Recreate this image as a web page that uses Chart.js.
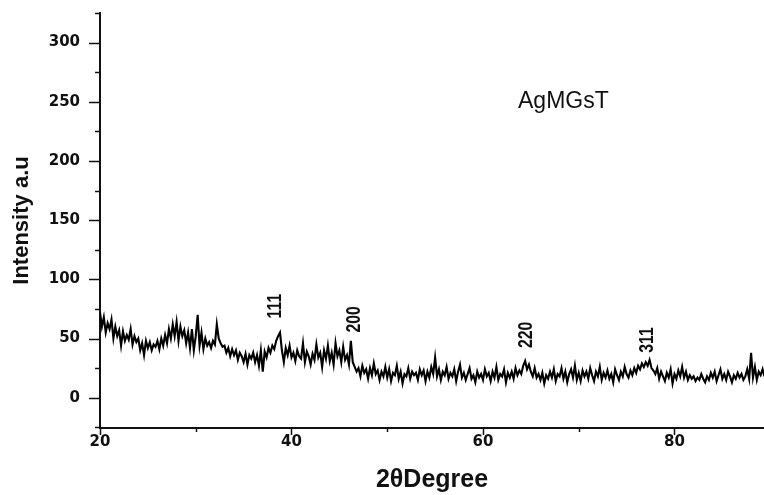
<!DOCTYPE html>
<html>
<head>
<meta charset="utf-8">
<script src="https://cdn.jsdelivr.net/npm/chart.js@4.4.1/dist/chart.umd.min.js"></script>
<style>
  html, body { margin: 0; padding: 0; background: #fff; }
  #wrap { width: 764px; height: 495px; position: relative; }
</style>
</head>
<body>
<div id="wrap"><canvas id="xrd"></canvas></div>
<script>
// scan grid (2-theta, degrees)
const SCAN_START = 20;
const SCAN_STEP = 0.2;

// intensity, 5 points per degree starting at 20
const intensity = [
    72, 60, 68, 55, 63,   58, 66, 50, 60, 52,   57, 44, 56, 48, 53,   49, 58, 45, 52, 47,
    50, 40, 46, 36, 48,   42, 47, 40, 45, 43,   48, 41, 50, 44, 53,   46, 58, 50, 62, 52,
    64, 48, 60, 52, 57,   46, 55, 42, 58, 40,   52, 70, 44, 55, 41,   50, 44, 47, 42, 48,
    45, 62, 50, 46, 43,   44, 38, 42, 35, 41,   36, 40, 32, 38, 35,   30, 37, 28, 36, 33,
    38, 30, 36, 27, 40,   22, 39, 34, 42, 38,   44, 41, 48, 52, 55,   40, 30, 42, 36, 44,
    34, 38, 31, 40, 35,   33, 46, 30, 39, 35,   28, 37, 32, 45, 34,   38, 26, 40, 33, 44,
    31, 38, 28, 46, 35,   40, 30, 43, 32, 36,   28, 48, 30, 26, 22,   25, 18, 27, 21, 24,
    16, 25, 19, 29, 20,   23, 15, 22, 18, 26,   17, 24, 14, 21, 19,   27, 16, 22, 12, 20,
    18, 25, 16, 22, 19,   21, 15, 24, 19, 23,   14, 22, 17, 26, 20,   34, 18, 24, 15, 22,
    19, 26, 16, 21, 18,   24, 14, 22, 28, 17,   21, 15, 20, 25, 16,   19, 13, 22, 17, 20,
    15, 24, 18, 21, 14,   22, 17, 26, 15, 20,   18, 24, 13, 21, 17,   22, 16, 25, 19, 23,
    20, 27, 31, 24, 28,   22, 18, 25, 17, 20,   15, 21, 12, 19, 16,   22, 17, 24, 14, 20,
    18, 25, 16, 22, 13,   20, 24, 17, 27, 15,   21, 14, 23, 18, 22,   16, 25, 19, 14, 22,
    18, 26, 15, 21, 17,   23, 16, 20, 13, 24,   19, 15, 22, 18, 26,   20, 17, 23, 19, 25,
    21, 27, 24, 29, 26,   30, 27, 32, 25, 23,   20, 25, 16, 22, 18,   14, 21, 17, 24, 12,
    20, 16, 23, 18, 26,   17, 22, 15, 19, 16,   18, 14, 17, 15, 20,   16, 13, 18, 15, 21,
    17, 22, 14, 19, 24,   16, 20, 15, 22, 18,   13, 19, 16, 21, 17,   20, 15, 18, 24, 16,
    38, 17, 26, 15, 22,   19, 24, 18
];

const xTickValues = [20, 30, 40, 50, 60, 70, 80];
const xTickLabeled = [20, 40, 60, 80];
const yTickValues = [-25, 0, 25, 50, 75, 100, 125, 150, 175, 200, 225, 250, 275, 300, 325];
const yTickLabeled = [0, 50, 100, 150, 200, 250, 300];

// reflection labels
const peakNames = ["111", "200", "220", "311"];
const peakPos = [38.3, 46.55, 64.6, 77.15];
const peakLabelBase = [67, 55, 42, 38];

const sampleName = "AgMGsT";
const samplePos = { x: 63.66, y: 244.8 };

const points = intensity.map((v, i) => ({ x: SCAN_START + i * SCAN_STEP, y: v }));

const INK = "#111";

// tick marks drawn by hand so minor ones can be shorter
const axisTicks = {
    id: "axisTicks",
    afterDraw(chart) {
        const { ctx, chartArea, scales: { x, y } } = chart;
        ctx.save();
        ctx.strokeStyle = INK;
        ctx.lineWidth = 1.5;
        ctx.beginPath();
        for (const t of x.ticks) {
            const px = Math.round(x.getPixelForValue(t.value)) + 0.5;
            const len = xTickLabeled.includes(t.value) ? 7 : 4;
            ctx.moveTo(px, chartArea.bottom);
            ctx.lineTo(px, chartArea.bottom + len);
        }
        for (const t of y.ticks) {
            const py = Math.round(y.getPixelForValue(t.value)) + 0.5;
            const len = yTickLabeled.includes(t.value) ? 11 : 5;
            ctx.moveTo(chartArea.left, py);
            ctx.lineTo(chartArea.left - len, py);
        }
        ctx.stroke();
        ctx.restore();
    }
};

const annotations = {
    id: "annotations",
    afterDatasetsDraw(chart) {
        const { ctx, scales: { x, y } } = chart;
        ctx.save();
        ctx.fillStyle = INK;
        ctx.font = "bold 15px 'Liberation Sans', Arial, sans-serif";
        ctx.textAlign = "left";
        ctx.textBaseline = "middle";
        peakNames.forEach((name, i) => {
            ctx.save();
            ctx.translate(x.getPixelForValue(peakPos[i]), y.getPixelForValue(peakLabelBase[i]));
            ctx.rotate(-Math.PI / 2);
            ctx.scale(1.05, 1.3);
            ctx.fillText(name, 0, 0);
            ctx.restore();
        });
        ctx.font = "23px 'Liberation Sans', Arial, sans-serif";
        ctx.textBaseline = "alphabetic";
        ctx.fillText(sampleName, x.getPixelForValue(samplePos.x), y.getPixelForValue(samplePos.y));
        ctx.restore();
    }
};

const tickFont = { family: "'DejaVu Sans', sans-serif", size: 15, weight: "bold" };

new Chart(document.getElementById("xrd"), {
    type: "line",
    data: {
        datasets: [{
            data: points,
            borderColor: "#000",
            borderWidth: 2.1,
            pointRadius: 0,
            tension: 0,
            fill: false
        }]
    },
    options: {
        responsive: true,
        maintainAspectRatio: false,
        animation: false,
        events: [],
        layout: { padding: { top: 13, right: 0, left: 0, bottom: 0 } },
        plugins: { legend: { display: false }, tooltip: { enabled: false } },
        scales: {
            x: {
                type: "linear",
                min: 20,
                max: 89.35,
                afterBuildTicks: (s) => { s.ticks = xTickValues.map(v => ({ value: v })); },
                afterFit: (s) => { s.height = 67; s.paddingLeft = 0; s.paddingRight = 0; },
                border: { display: true, color: INK, width: 2 },
                grid: { display: true, drawOnChartArea: false, color: "rgba(0,0,0,0)", tickLength: 5 },
                ticks: {
                    padding: 0,
                    color: INK,
                    font: tickFont,
                    maxRotation: 0,
                    autoSkip: false,
                    callback: (v) => xTickLabeled.includes(v) ? String(v) : ""
                },
                title: {
                    display: true,
                    text: "2θDegree",
                    color: INK,
                    font: { family: "'Liberation Sans', Arial, sans-serif", size: 25, weight: "bold" },
                    padding: { top: 0, bottom: 0 }
                }
            },
            y: {
                type: "linear",
                min: -25.6,
                max: 325,
                afterBuildTicks: (s) => { s.ticks = yTickValues.map(v => ({ value: v })); },
                afterFit: (s) => { s.width = 100; s.paddingTop = 0; s.paddingBottom = 0; },
                border: { display: true, color: INK, width: 2 },
                grid: { display: true, drawOnChartArea: false, color: "rgba(0,0,0,0)", tickLength: 11 },
                ticks: {
                    padding: 9,
                    color: INK,
                    font: tickFont,
                    autoSkip: false,
                    callback: (v) => yTickLabeled.includes(v) ? String(v) : ""
                },
                title: {
                    display: true,
                    text: "Intensity a.u",
                    color: INK,
                    font: { family: "'Liberation Sans', Arial, sans-serif", size: 22, weight: "bold" },
                    padding: { top: 9, bottom: 0 }
                }
            }
        }
    },
    plugins: [axisTicks, annotations]
});
</script>
</body>
</html>
